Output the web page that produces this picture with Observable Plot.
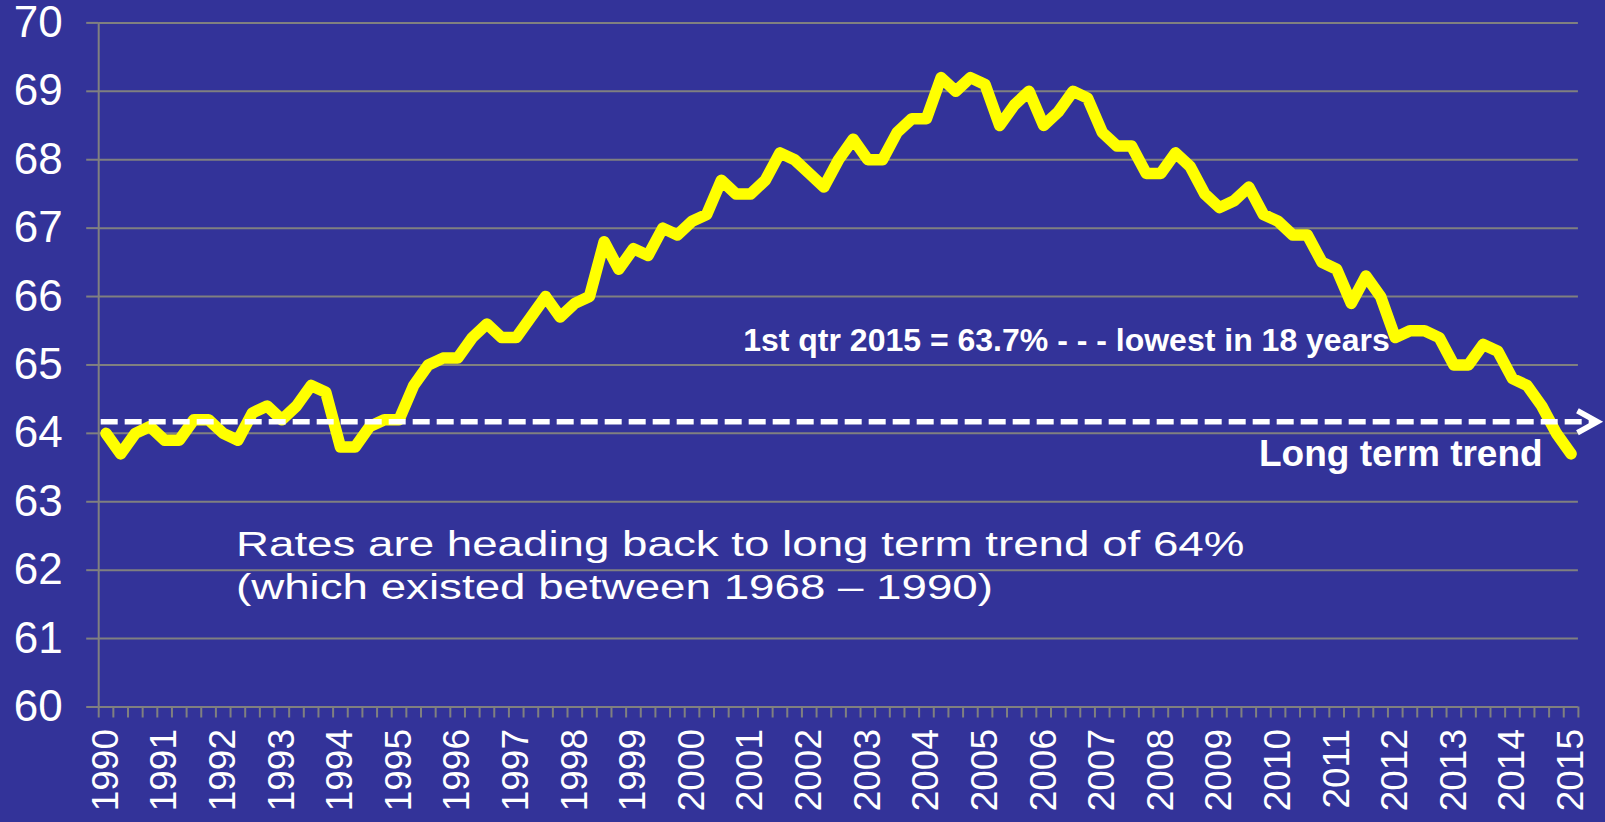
<!DOCTYPE html>
<html>
<head>
<meta charset="utf-8">
<script src="https://cdn.jsdelivr.net/npm/d3@7"></script>
<script src="https://cdn.jsdelivr.net/npm/@observablehq/plot@0.6"></script>
<style>
html, body { margin: 0; padding: 0; background: #333399; overflow: hidden; }
#chart svg { display: block; }
</style>
</head>
<body>
<div id="chart"></div>
<script>
// ---- data ----
const years = [1990, 1991, 1992, 1993, 1994, 1995, 1996, 1997, 1998, 1999, 2000, 2001, 2002,
               2003, 2004, 2005, 2006, 2007, 2008, 2009, 2010, 2011, 2012, 2013, 2014, 2015];
// homeownership rate, quarterly, 1990 Q1 .. 2015 Q1
const rates = [
  64.0, 63.7, 64.0, 64.1,   63.9, 63.9, 64.2, 64.2,   64.0, 63.9, 64.3, 64.4,
  64.2, 64.4, 64.7, 64.6,   63.8, 63.8, 64.1, 64.2,   64.2, 64.7, 65.0, 65.1,
  65.1, 65.4, 65.6, 65.4,   65.4, 65.7, 66.0, 65.7,   65.9, 66.0, 66.8, 66.4,
  66.7, 66.6, 67.0, 66.9,   67.1, 67.2, 67.7, 67.5,   67.5, 67.7, 68.1, 68.0,
  67.8, 67.6, 68.0, 68.3,   68.0, 68.0, 68.4, 68.6,   68.6, 69.2, 69.0, 69.2,
  69.1, 68.5, 68.8, 69.0,   68.5, 68.7, 69.0, 68.9,   68.4, 68.2, 68.2, 67.8,
  67.8, 68.1, 67.9, 67.5,   67.3, 67.4, 67.6, 67.2,   67.1, 66.9, 66.9, 66.5,
  66.4, 65.9, 66.3, 66.0,   65.4, 65.5, 65.5, 65.4,   65.0, 65.0, 65.3, 65.2,
  64.8, 64.7, 64.4, 64.0,   63.7
];
const yTicks = [60, 61, 62, 63, 64, 65, 66, 67, 68, 69, 70];

// annotations (data units: x = quarter index, y = percent)
const trendLine = [{x1: -0.33, x2: 101.6, y: 64.17}];
const trendHead = [{x: 101.8, y: 64.17}];
const leftNotes = [
  {x: 43.49, y: 65.21, text: "1st qtr 2015 = 63.7% - - - lowest in 18 years"}
];
const rightNotes = [
  {x: 98.06, y: 63.53, text: "Long term trend"}
];
const plainNotes = [
  {x: 8.87, y: 62.21, text: "Rates are heading back to long term trend of 64%"},
  {x: 8.87, y: 61.58, text: "(which existed between 1968 \u2013 1990)"}
];

// ---- derived tables ----
const series = rates.map((v, i) => ({i, quarter: `${years[Math.floor(i / 4)]} Q${i % 4 + 1}`, v}));
const yearRows = years.map((y, k) => ({i: k * 4, year: String(y)}));
const bounds = d3.range(-0.5, rates.length, 1);

const GRID = "#808080";
const FONT = "'Liberation Sans', Arial, Helvetica, sans-serif";

const chevron = {
  draw(ctx, size) {
    const r = Math.sqrt(size / Math.PI);
    ctx.moveTo(-r, -r * 0.55);
    ctx.lineTo(0, 0);
    ctx.lineTo(-r, r * 0.55);
  }
};

const chart = Plot.plot({
  width: 1605,
  height: 822,
  marginLeft: 98.2,
  marginRight: 27.1,
  marginTop: 22.4,
  marginBottom: 115.5,
  style: {background: "#333399", fontFamily: FONT, color: "white", overflow: "visible"},
  x: {domain: [-0.5, rates.length - 0.5]},
  y: {domain: [60, 70]},
  marks: [
    Plot.gridY(yTicks, {stroke: GRID, strokeOpacity: 1, strokeWidth: 2}),
    Plot.axisY(yTicks, {tickSize: 12, tickPadding: 24, stroke: GRID, strokeWidth: 2, fill: "white",
                        fontSize: 44, label: null, tickFormat: d => String(d)}),
    Plot.ruleX([-0.5], {stroke: GRID, strokeWidth: 2}),
    Plot.axisX(bounds, {tickSize: 11, stroke: GRID, strokeWidth: 2, tickFormat: () => "", label: null}),
    Plot.text(yearRows, {x: "i", y: 60, text: "year", rotate: -90, textAnchor: "end",
                         lineAnchor: "middle", dy: 22, fontSize: 37, fill: "white"}),
    Plot.line(series, {x: "i", y: "v", stroke: "#ffff00", strokeWidth: 11.5,
                       strokeLinejoin: "round", strokeLinecap: "round"}),
    Plot.ruleY(trendLine, {y: "y", x1: "x1", x2: "x2", stroke: "white", strokeWidth: 5.5,
                           strokeDasharray: "17,7"}),
    Plot.dot(trendHead, {x: "x", y: "y", symbol: chevron, r: 20, fill: "none", stroke: "white",
                         strokeWidth: 5.5, strokeLinejoin: "miter"}),
    Plot.text(leftNotes, {x: "x", y: "y", text: "text", fontSize: 32, textAnchor: "start",
                          lineAnchor: "bottom", fontWeight: "bold", fill: "white"}),
    Plot.text(rightNotes, {x: "x", y: "y", text: "text", fontSize: 37, textAnchor: "end",
                           lineAnchor: "bottom", fontWeight: "bold", fill: "white"}),
    Plot.text(plainNotes, {x: "x", y: "y", text: "text", fontSize: 36, textAnchor: "start",
                           lineAnchor: "bottom", fill: "white"})
  ]
});

// the plain annotation is horizontally stretched in the original
d3.select(chart).selectAll("text").filter(function() {
  return plainNotes.some(d => d.text === this.textContent);
}).each(function() {
  const t = this.getAttribute("transform") || "";
  this.setAttribute("transform", t + " scale(1.27,1)");
});

document.getElementById("chart").appendChild(chart);
</script>
</body>
</html>
